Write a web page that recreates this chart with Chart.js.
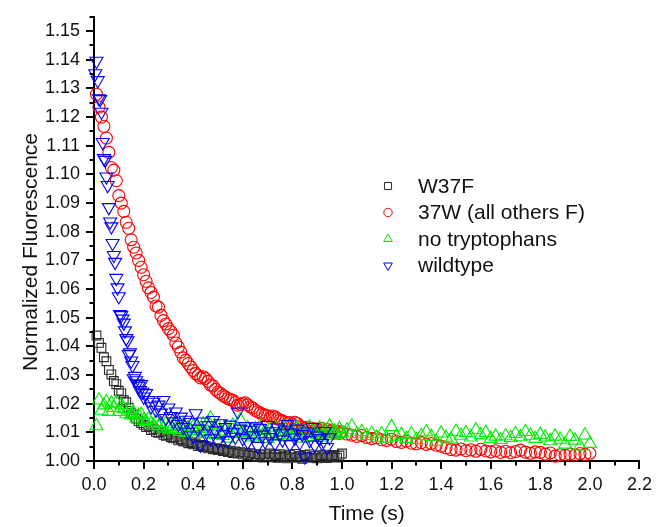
<!DOCTYPE html>
<html>
<head>
<meta charset="utf-8">
<title>Normalized Fluorescence vs Time</title>
<script src="https://cdn.jsdelivr.net/npm/chart.js@4.4.1/dist/chart.umd.min.js"></script>
<style>
  html, body { margin: 0; padding: 0; background: #fff; }
  #wrap { width: 657px; height: 527px; }
</style>
</head>
<body>
<div id="wrap"><canvas id="chart" width="657" height="527"></canvas></div>
<script>
// --- DATA ---

// time axis of W37F (s)
const timeA = [
  0.01,0.02,0.03,0.04,0.05,0.06,0.07,0.08,0.09,0.10,
  0.11,0.12,0.13,0.14,0.15,0.16,0.17,0.18,0.19,0.20,
  0.21,0.22,0.23,0.24,0.25,0.26,0.27,0.28,0.29,0.30,
  0.31,0.32,0.33,0.34,0.35,0.36,0.37,0.38,0.39,0.40,
  0.41,0.42,0.43,0.44,0.45,0.46,0.47,0.48,0.49,0.50,
  0.51,0.52,0.53,0.54,0.55,0.56,0.57,0.58,0.59,0.60,
  0.61,0.62,0.63,0.64,0.65,0.66,0.67,0.68,0.69,0.70,
  0.71,0.72,0.73,0.74,0.75,0.76,0.77,0.78,0.79,0.80,
  0.81,0.82,0.83,0.84,0.85,0.86,0.87,0.88,0.89,0.90,
  0.91,0.92,0.93,0.94,0.95,0.96,0.97,0.98,0.99,1.00
];

// time axis of wildtype (s)
const wtTime = [
  0.005,0.010,0.015,0.020,0.025,0.030,0.035,0.040,0.045,0.050,
  0.055,0.060,0.065,0.070,0.075,0.080,0.085,0.090,0.095,0.100,
  0.105,0.110,0.115,0.120,0.125,0.130,0.135,0.140,0.145,0.150,
  0.155,0.160,0.165,0.170,0.175,0.180,0.185,0.190,0.195,0.200,
  0.21,0.22,0.23,0.24,0.25,0.26,0.27,0.28,0.29,0.30,
  0.31,0.32,0.33,0.34,0.35,0.36,0.37,0.38,0.39,0.40,
  0.41,0.42,0.43,0.44,0.45,0.46,0.47,0.48,0.49,0.50,
  0.51,0.52,0.53,0.54,0.55,0.56,0.57,0.58,0.59,0.60,
  0.61,0.62,0.63,0.64,0.65,0.66,0.67,0.68,0.69,0.70,
  0.71,0.72,0.73,0.74,0.75,0.76,0.77,0.78,0.79,0.80,
  0.81,0.82,0.83,0.84,0.85,0.86,0.87,0.88,0.89,0.90,
  0.91,0.92,0.93,0.94,0.95
];

// time axis of 37W and no tryptophans (s)
const timeB = [
  0.01,0.02,0.03,0.04,0.05,0.06,0.07,0.08,0.09,0.10,
  0.11,0.12,0.13,0.14,0.15,0.16,0.17,0.18,0.19,0.20,
  0.21,0.22,0.23,0.24,0.25,0.26,0.27,0.28,0.29,0.30,
  0.31,0.32,0.33,0.34,0.35,0.36,0.37,0.38,0.39,0.40,
  0.41,0.42,0.43,0.44,0.45,0.46,0.47,0.48,0.49,0.50,
  0.51,0.52,0.53,0.54,0.55,0.56,0.57,0.58,0.59,0.60,
  0.61,0.62,0.63,0.64,0.65,0.66,0.67,0.68,0.69,0.70,
  0.71,0.72,0.73,0.74,0.75,0.76,0.77,0.78,0.79,0.80,
  0.81,0.82,0.83,0.84,0.85,0.86,0.87,0.88,0.89,0.90,
  0.91,0.92,0.93,0.94,0.95,0.96,0.97,0.98,0.99,1.00,
  1.02,1.04,1.06,1.08,1.10,1.12,1.14,1.16,1.18,1.20,
  1.22,1.24,1.26,1.28,1.30,1.32,1.34,1.36,1.38,1.40,
  1.42,1.44,1.46,1.48,1.50,1.52,1.54,1.56,1.58,1.60,
  1.62,1.64,1.66,1.68,1.70,1.72,1.74,1.76,1.78,1.80,
  1.82,1.84,1.86,1.88,1.90,1.92,1.94,1.96,1.98,2.00
];

const w37f = [
  1.0438,1.0412,1.0395,1.0362,1.0348,1.0318,1.0302,1.0279,1.0268,1.0245,
  1.0236,1.0212,1.0205,1.0186,1.0168,1.0162,1.0148,1.0139,1.0132,1.0126,
  1.0118,1.0121,1.0108,1.0112,1.0101,1.0098,1.0102,1.0091,1.0088,1.0092,
  1.0083,1.0079,1.0084,1.0072,1.0076,1.0068,1.0071,1.0062,1.0066,1.0058,
  1.0061,1.0052,1.0056,1.0049,1.0053,1.0044,1.0048,1.0041,1.0045,1.0038,
  1.0042,1.0035,1.0039,1.0031,1.0036,1.0028,1.0033,1.0026,1.0031,1.0023,
  1.0029,1.0021,1.0027,1.0018,1.0024,1.0015,1.0022,1.0012,1.0023,1.0016,
  1.0026,1.0013,1.0021,1.0011,1.0024,1.0014,1.0019,1.0009,1.0022,1.0013,
  1.0025,1.0012,1.0018,1.0008,1.0021,1.0014,1.0023,1.0011,1.0017,1.0009,
  1.0020,1.0013,1.0022,1.0010,1.0018,1.0014,1.0021,1.0012,1.0019,1.0026
];

const w37wAllOthersF = [
  1.1280,1.1235,1.1200,1.1168,1.1127,1.1077,1.1024,1.1015,1.0978,1.0926,
  1.0900,1.0871,1.0833,1.0812,1.0772,1.0746,1.0726,1.0700,1.0676,1.0650,
  1.0627,1.0604,1.0588,1.0572,1.0541,1.0537,1.0508,1.0490,1.0478,1.0462,
  1.0452,1.0439,1.0412,1.0398,1.0380,1.0360,1.0352,1.0340,1.0328,1.0316,
  1.0305,1.0299,1.0290,1.0294,1.0288,1.0278,1.0265,1.0262,1.0250,1.0241,
  1.0236,1.0228,1.0224,1.0218,1.0214,1.0212,1.0204,1.0195,1.0198,1.0201,
  1.0203,1.0196,1.0189,1.0185,1.0177,1.0172,1.0168,1.0163,1.0160,1.0158,
  1.0152,1.0157,1.0154,1.0148,1.0143,1.0140,1.0136,1.0131,1.0134,1.0128,
  1.0135,1.0131,1.0122,1.0118,1.0114,1.0118,1.0111,1.0114,1.0108,1.0112,
  1.0106,1.0113,1.0104,1.0110,1.0102,1.0108,1.0098,1.0104,1.0096,1.0102,
  1.0094,1.0090,1.0086,1.0089,1.0082,1.0078,1.0081,1.0074,1.0072,1.0076,
  1.0068,1.0065,1.0069,1.0062,1.0060,1.0064,1.0058,1.0061,1.0055,1.0052,
  1.0046,1.0040,1.0038,1.0042,1.0036,1.0039,1.0034,1.0041,1.0035,1.0032,
  1.0036,1.0030,1.0034,1.0029,1.0033,1.0038,1.0031,1.0027,1.0032,1.0030,
  1.0024,1.0028,1.0017,1.0022,1.0020,1.0024,1.0021,1.0026,1.0023,1.0027
];

const noTryptophans = [
  1.0122,1.0212,1.0176,1.0195,1.0206,1.0172,1.0201,1.0186,1.0203,1.0172,
  1.0195,1.0182,1.0164,1.0178,1.0160,1.0168,1.0149,1.0158,1.0162,1.0141,
  1.0137,1.0146,1.0130,1.0124,1.0137,1.0121,1.0129,1.0114,1.0131,1.0118,
  1.0108,1.0124,1.0112,1.0110,1.0102,1.0126,1.0098,1.0115,1.0106,1.0119,
  1.0094,1.0112,1.0103,1.0128,1.0097,1.0136,1.0149,1.0108,1.0092,1.0121,
  1.0104,1.0088,1.0116,1.0079,1.0101,1.0124,1.0095,1.0110,1.0143,1.0098,
  1.0087,1.0115,1.0102,1.0083,1.0112,1.0096,1.0121,1.0089,1.0105,1.0078,
  1.0108,1.0094,1.0117,1.0086,1.0102,1.0091,1.0113,1.0084,1.0099,1.0107,
  1.0088,1.0115,1.0093,1.0079,1.0104,1.0096,1.0118,1.0085,1.0101,1.0092,
  1.0114,1.0083,1.0108,1.0097,1.0121,1.0089,1.0104,1.0093,1.0112,1.0098,
  1.0108,1.0121,1.0094,1.0102,1.0088,1.0096,1.0082,1.0094,1.0079,1.0119,
  1.0086,1.0092,1.0078,1.0094,1.0074,1.0088,1.0101,1.0085,1.0068,1.0097,
  1.0082,1.0076,1.0103,1.0089,1.0098,1.0083,1.0108,1.0091,1.0099,1.0078,
  1.0086,1.0074,1.0087,1.0081,1.0095,1.0084,1.0102,1.0089,1.0078,1.0092,
  1.0083,1.0070,1.0086,1.0075,1.0058,1.0085,1.0072,1.0052,1.0090,1.0061
];

const wildtype = [
  1.1352,1.1396,1.1328,1.1265,1.1262,1.1218,1.1112,1.1056,1.1050,1.0992,
  1.0962,1.0885,1.0835,1.0818,1.0760,1.0718,1.0694,1.0638,1.0605,1.0574,
  1.0512,1.0508,1.0496,1.0482,1.0455,1.0428,1.0420,1.0372,1.0378,1.0350,
  1.0334,1.0288,1.0296,1.0281,1.0270,1.0262,1.0247,1.0268,1.0241,1.0224,
  1.0236,1.0212,1.0190,1.0206,1.0178,1.0196,1.0168,1.0212,1.0149,1.0186,
  1.0156,1.0138,1.0172,1.0128,1.0154,1.0118,1.0143,1.0101,1.0135,1.0088,
  1.0166,1.0112,1.0056,1.0137,1.0095,1.0124,1.0078,1.0142,1.0106,1.0068,
  1.0131,1.0093,1.0118,1.0072,1.0126,1.0101,1.0084,1.0172,1.0112,1.0079,
  1.0121,1.0066,1.0108,1.0089,1.0120,1.0052,1.0114,1.0091,1.0068,1.0125,
  1.0083,1.0103,1.0061,1.0116,1.0096,1.0074,1.0109,1.0128,1.0058,1.0098,
  1.0081,1.0112,1.0064,1.0093,1.0015,1.0102,1.0072,1.0118,1.0056,1.0088,
  1.0079,1.0062,1.0104,1.0048,1.0082
];

// axis ticks
const xTicks = [0.0, 0.2, 0.4, 0.6, 0.8, 1.0, 1.2, 1.4, 1.6, 1.8, 2.0, 2.2];
const xMinorTicks = [0.1, 0.3, 0.5, 0.7, 0.9, 1.1, 1.3, 1.5, 1.7, 1.9, 2.1];
const yTicks = [1.00, 1.01, 1.02, 1.03, 1.04, 1.05, 1.06, 1.07, 1.08, 1.09, 1.10, 1.11, 1.12, 1.13, 1.14, 1.15];
const yMinorTicks = [1.005, 1.015, 1.025, 1.035, 1.045, 1.055, 1.065, 1.075, 1.085, 1.095, 1.105, 1.115, 1.125, 1.135, 1.145, 1.155];

const seriesNames = ['W37F', '37W (all others F)', 'no tryptophans', 'wildtype'];

// --- HELPERS ---
const FONT = 'Arial, "Liberation Sans", Helvetica, sans-serif';
const toPoints = (times, values) => values.map((v, i) => ({ x: times[i], y: v }));

// minor ticks (Origin style, shorter than the major ones)
const minorTicksPlugin = {
    id: 'minorTicks',
    afterDraw(chart) {
        const { ctx, scales: { x, y } } = chart;
        ctx.save();
        ctx.strokeStyle = '#000';
        ctx.lineWidth = 2;
        ctx.beginPath();
        xMinorTicks.forEach(v => {
            const px = Math.round(x.getPixelForValue(v));
            ctx.moveTo(px, x.top);
            ctx.lineTo(px, x.top + 4.5);
        });
        yMinorTicks.forEach(v => {
            const py = Math.round(y.getPixelForValue(v));
            ctx.moveTo(y.right, py);
            ctx.lineTo(y.right - 4.5, py);
        });
        ctx.stroke();
        ctx.restore();
    }
};

// y title + legend box drawn by hand so they sit where Origin put them
const annotationsPlugin = {
    id: 'annotations',
    afterDraw(chart) {
        const { ctx } = chart;
        ctx.save();
        ctx.fillStyle = '#111';
        ctx.font = '21px ' + FONT;
        ctx.textAlign = 'center';
        ctx.textBaseline = 'middle';
        ctx.translate(31, 252);
        ctx.rotate(-Math.PI / 2);
        ctx.fillText('Normalized Fluorescence', 0, 0);
        ctx.restore();

        ctx.save();
        const rowY = [186, 212.5, 239, 265.5];
        chart.data.datasets.forEach((ds, i) => {
            const style = {
                pointStyle: ds.pointStyle,
                rotation: ds.pointRotation || 0,
                radius: ds.legendRadius,
                borderWidth: 1
            };
            ctx.strokeStyle = ds.borderColor;
            ctx.fillStyle = 'rgba(0,0,0,0)';
            ctx.lineWidth = 1;
            Chart.helpers.drawPoint(ctx, style, 388, rowY[i]);
            ctx.fillStyle = '#111';
            ctx.font = '21px ' + FONT;
            ctx.textAlign = 'left';
            ctx.textBaseline = 'middle';
            ctx.fillText(ds.label, 418, rowY[i] + 1);
        });
        ctx.restore();
    }
};

// --- CHART ---
document.addEventListener('DOMContentLoaded', function() {
    const ctx = document.getElementById('chart').getContext('2d');

    new Chart(ctx, {
        type: 'scatter',
        data: {
            datasets: [
                { label: seriesNames[0], data: toPoints(timeA, w37f), pointStyle: 'rect', pointRadius: 6.2, legendRadius: 5,
                  borderColor: '#2a2a2a', backgroundColor: 'rgba(0,0,0,0)', pointBorderWidth: 1.1, order: 4, clip: false },
                { label: seriesNames[1], data: toPoints(timeB, w37wAllOthersF), pointStyle: 'circle', pointRadius: 6, legendRadius: 4.2,
                  borderColor: '#ff0000', backgroundColor: 'rgba(0,0,0,0)', pointBorderWidth: 1.1, order: 3, clip: false },
                { label: seriesNames[2], data: toPoints(timeB, noTryptophans), pointStyle: 'triangle', pointRadius: 7.5, legendRadius: 5,
                  borderColor: '#00ee00', backgroundColor: 'rgba(0,0,0,0)', pointBorderWidth: 1.1, order: 2, clip: false },
                { label: seriesNames[3], data: toPoints(wtTime, wildtype), pointStyle: 'triangle', pointRotation: 180, pointRadius: 7.5, legendRadius: 5,
                  borderColor: '#0000ff', backgroundColor: 'rgba(0,0,0,0)', pointBorderWidth: 1.1, order: 1, clip: false }
            ]
        },
        options: {
            responsive: false,
            animation: false,
            events: [],
            layout: { padding: { top: 15, right: 14, left: 0, bottom: 0 } },
            plugins: { legend: { display: false }, tooltip: { enabled: false } },
            scales: {
                x: {
                    type: 'linear', min: 0, max: 2.2,
                    afterBuildTicks: s => { s.ticks = xTicks.map(v => ({ value: v })); },
                    afterFit: s => { s.height = 66; },
                    ticks: { callback: v => v.toFixed(1), color: '#111', padding: 5, font: { family: FONT, size: 18 }, maxRotation: 0 },
                    grid: { drawOnChartArea: false, color: '#000', lineWidth: 2, tickLength: 8 },
                    border: { color: '#000', width: 2 },
                    title: { display: true, text: 'Time (s)', color: '#111', padding: 0, font: { family: FONT, size: 21 } }
                },
                y: {
                    type: 'linear', min: 1.0, max: 1.155,
                    afterBuildTicks: s => { s.ticks = yTicks.map(v => ({ value: v })); },
                    afterFit: s => { s.width = 94; },
                    ticks: { callback: v => v.toFixed(2), color: '#111', padding: 6, font: { family: FONT, size: 18 } },
                    grid: { drawOnChartArea: false, color: '#000', lineWidth: 2, tickLength: 8 },
                    border: { color: '#000', width: 2 }
                }
            }
        },
        plugins: [minorTicksPlugin, annotationsPlugin]
    });
});
</script>
</body>
</html>
